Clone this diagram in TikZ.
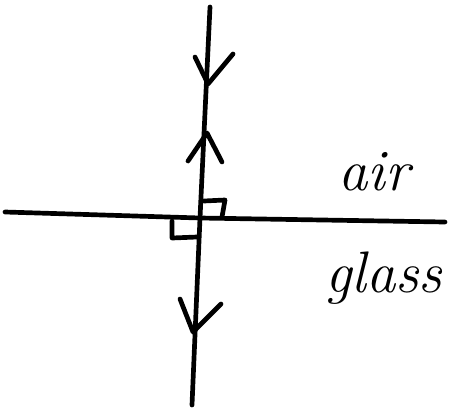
\documentclass[tikz,border=0pt]{standalone}
\tikzset{
	pen/.style={line width=4pt, line cap=round, line join=round},
	medium/.style={font=\itshape\fontsize{50}{50}\selectfont, inner sep=0pt}
}
\begin{document}
\begin{tikzpicture}[x=0.03cm, y=-0.03cm]
	\useasboundingbox (0,0) rectangle (449,414);
	% surface and ray
	\coordinate (L) at (5,212);
	\coordinate (R) at (445,222);
	\coordinate (T) at (210,7);
	\coordinate (O) at (200,218);
	\coordinate (B) at (192,405);
	\draw[pen] (L)--(O)--(R);
	\draw[pen] (T)--(O)--(B);
	% arrowheads
	\draw[pen] (195,57)--(208,84)--(233,54);
	\draw[pen] (188,161)--(207,133)--(222,162);
	\draw[pen] (180,299)--(193,332)--(221,304);
	% right angles
	\draw[pen] (204,201)--(225,200)--(222,217);
	\draw[pen] (172,221)--(172,238)--(197,237);
	\node[medium, anchor=base west] (air) at (338,190) {air};
	\node[medium, anchor=base west] (glass) at (325,292) {glass};
\end{tikzpicture}
\end{document}
